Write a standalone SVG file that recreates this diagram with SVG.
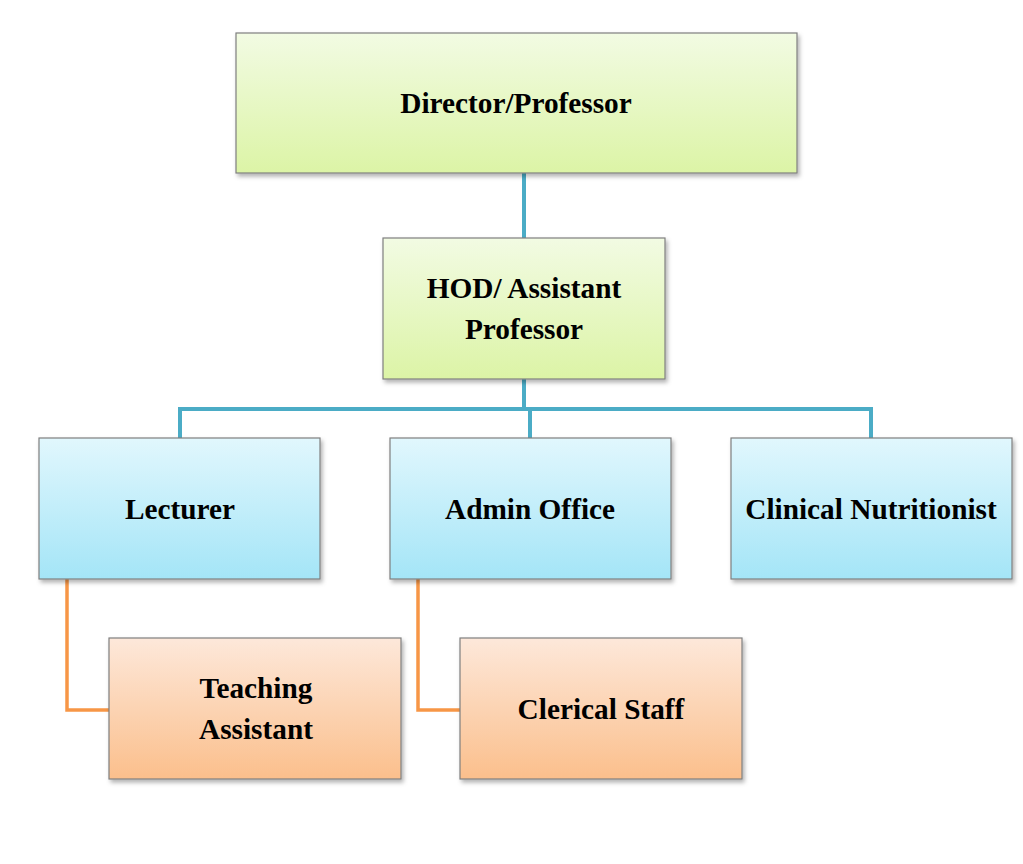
<svg xmlns="http://www.w3.org/2000/svg" width="1023" height="864" viewBox="0 0 1023 864">
<defs>
<linearGradient id="gGreen" x1="0" y1="0" x2="0" y2="1"><stop offset="0" stop-color="#f2fbe3"/><stop offset="1" stop-color="#dcf4a6"/></linearGradient>
<linearGradient id="gBlue" x1="0" y1="0" x2="0" y2="1"><stop offset="0" stop-color="#e1f7fd"/><stop offset="1" stop-color="#a4e5f7"/></linearGradient>
<linearGradient id="gOrange" x1="0" y1="0" x2="0" y2="1"><stop offset="0" stop-color="#fde8da"/><stop offset="1" stop-color="#fbbf8c"/></linearGradient>
<filter id="sh" x="-5%" y="-5%" width="115%" height="120%"><feDropShadow dx="2" dy="3" stdDeviation="2" flood-color="#000" flood-opacity="0.3"/></filter>
</defs>
<style>
.box{stroke:#7f7f7f;stroke-width:1.2;filter:url(#sh)}
.green{fill:url(#gGreen)}
.blue{fill:url(#gBlue)}
.orange{fill:url(#gOrange)}
.lbl{font-family:"Liberation Serif","Times New Roman",serif;font-weight:bold;font-size:29.3px;fill:#000;text-anchor:middle}
.cb{fill:none;stroke:#4bacc6;stroke-width:4}
.co{fill:none;stroke:#f79646;stroke-width:3.5}
</style>
<rect width="1023" height="864" fill="#fff"/>
<g id="connectors">
<path class="cb" d="M524 173V238"/>
<path class="cb" d="M524 379V409"/>
<path class="cb" d="M180 438V409H871V438"/>
<path class="cb" d="M530 409V438"/>
<path class="co" d="M67 579V710H109"/>
<path class="co" d="M418 579V710H460"/>
</g>
<g id="director"><rect class="box green" x="236" y="33" width="561" height="140"/><text class="lbl" x="516" y="113">Director/Professor</text></g>
<g id="hod"><rect class="box green" x="383" y="238" width="282" height="141"/><text class="lbl" x="524" y="298">HOD/ Assistant</text><text class="lbl" x="524" y="339">Professor</text></g>
<g id="lecturer"><rect class="box blue" x="39" y="438" width="281" height="141"/><text class="lbl" x="180" y="519">Lecturer</text></g>
<g id="admin"><rect class="box blue" x="390" y="438" width="281" height="141"/><text class="lbl" x="530" y="519">Admin Office</text></g>
<g id="clinical"><rect class="box blue" x="731" y="438" width="281" height="141"/><text class="lbl" x="871" y="519">Clinical Nutritionist</text></g>
<g id="teaching"><rect class="box orange" x="109" y="638" width="292" height="141"/><text class="lbl" x="256" y="698">Teaching</text><text class="lbl" x="256" y="739">Assistant</text></g>
<g id="clerical"><rect class="box orange" x="460" y="638" width="282" height="141"/><text class="lbl" x="601" y="719">Clerical Staff</text></g>
</svg>
